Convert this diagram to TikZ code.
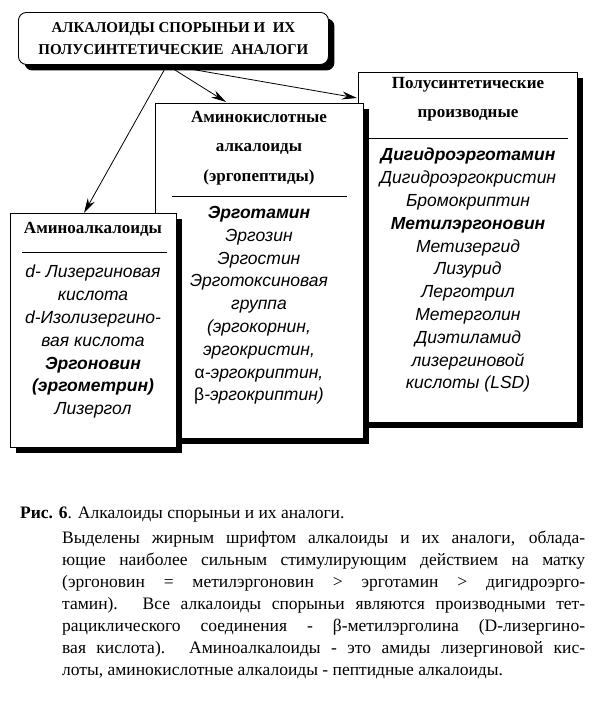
\documentclass[tikz,border=0pt]{standalone}
\usepackage{fontspec}
\setmainfont{Liberation Serif}
\newfontfamily\arialf{Liberation Sans}
\usetikzlibrary{shadows,arrows.meta}
\tikzset{
 box/.style={draw,fill=white,line width=0.9pt,anchor=north west,inner sep=0pt,
   drop shadow={shadow xshift=6pt,shadow yshift=-6pt,fill=black,opacity=1}},
 head/.style={font=\fontsize{17}{29.5}\selectfont\bfseries,align=center,anchor=north,inner sep=0pt},
 cont/.style={font=\arialf\fontsize{17.5}{22.8}\selectfont\itshape,align=center,anchor=north,inner sep=0pt},
 sep/.style={line width=0.7pt},
 arr/.style={line width=0.8pt,-{Stealth[length=15pt,width=8pt]}},
}
\begin{document}
\begin{tikzpicture}[x=1pt,y=-1pt]
\useasboundingbox (0,0) rectangle (600,710);
% title
\node[box,rounded corners=8pt,minimum width=310pt,minimum height=52pt] (T) at (18,12) {};
\node[font=\fontsize{15}{22}\selectfont\bfseries,align=center] (TT) at (T.center) {АЛКАЛОИДЫ СПОРЫНЬИ И\ \ ИХ\\ПОЛУСИНТЕТИЧЕСКИЕ\ \ АНАЛОГИ};
% right box
\node[box,minimum width=219pt,minimum height=350pt] (R) at (358,72) {};
\node[head] (RH) at (468,77) {Полусинтетические\\производные};
\draw[sep] (368,138) -- (568,138);
\node[cont] (RC) at (468,148) {{\bfseries Дигидроэрготамин}\\Дигидроэргокристин\\Бромокриптин\\{\bfseries Метилэргоновин}\\Метизергид\\Лизурид\\Лерготрил\\Метерголин\\Диэтиламид\\лизергиновой\\кислоты (LSD)};
% middle box
\node[box,minimum width=208pt,minimum height=335pt] (M) at (155,103) {};
\node[head] (MH) at (259,111) {Аминокислотные\\алкалоиды\\(эргопептиды)};
\draw[sep] (172,196) -- (347,196);
\node[cont] (MC) at (259,206) {{\bfseries Эрготамин}\\Эргозин\\Эргостин\\Эрготоксиновая\\группа\\(эргокорнин,\\эргокристин,\\{\upshape α}-эргокриптин,\\{\upshape β}-эргокриптин)};
% left box
\node[box,minimum width=166pt,minimum height=234pt] (L) at (10,213) {};
\node[head] (LH) at (93,222) {Аминоалкалоиды};
\draw[sep] (22,252) -- (167,252);
\node[cont] (LC) at (93,265) {d- Лизергиновая\\кислота\\d-Изолизергино-\\вая кислота\\{\bfseries Эргоновин}\\{\bfseries (эргометрин)}\\Лизергол};
% arrows
\coordinate (O) at (167,65);
\draw[arr] (O) -- (84,213);
\draw[arr] (O) -- (226,102);
\draw[arr] (O) -- (357,98);
% caption
\node[anchor=north west,font=\fontsize{17.5}{22}\selectfont,inner sep=0pt] (C1) at (20,507) {{\bfseries Рис. 6}. Алкалоиды спорыньи и их аналоги.};
\node[anchor=north west,font=\fontsize{17.5}{22}\selectfont,text width=523pt,align=justify,inner sep=0pt] (C2) at (62,531)
{Выделены жирным шрифтом алкалоиды и их аналоги, облада-\linebreak
ющие наиболее сильным стимулирующим действием на матку\linebreak
(эргоновин = метилэргоновин > эрготамин > дигидроэрго-\linebreak
тамин). Все алкалоиды спорыньи являются производными тет-\linebreak
рациклического соединения - β-метилэрголина (D-лизергино-\linebreak
вая кислота). Аминоалкалоиды - это амиды лизергиновой кис-\linebreak
лоты, аминокислотные алкалоиды - пептидные алкалоиды.};
\end{tikzpicture}
\end{document}
